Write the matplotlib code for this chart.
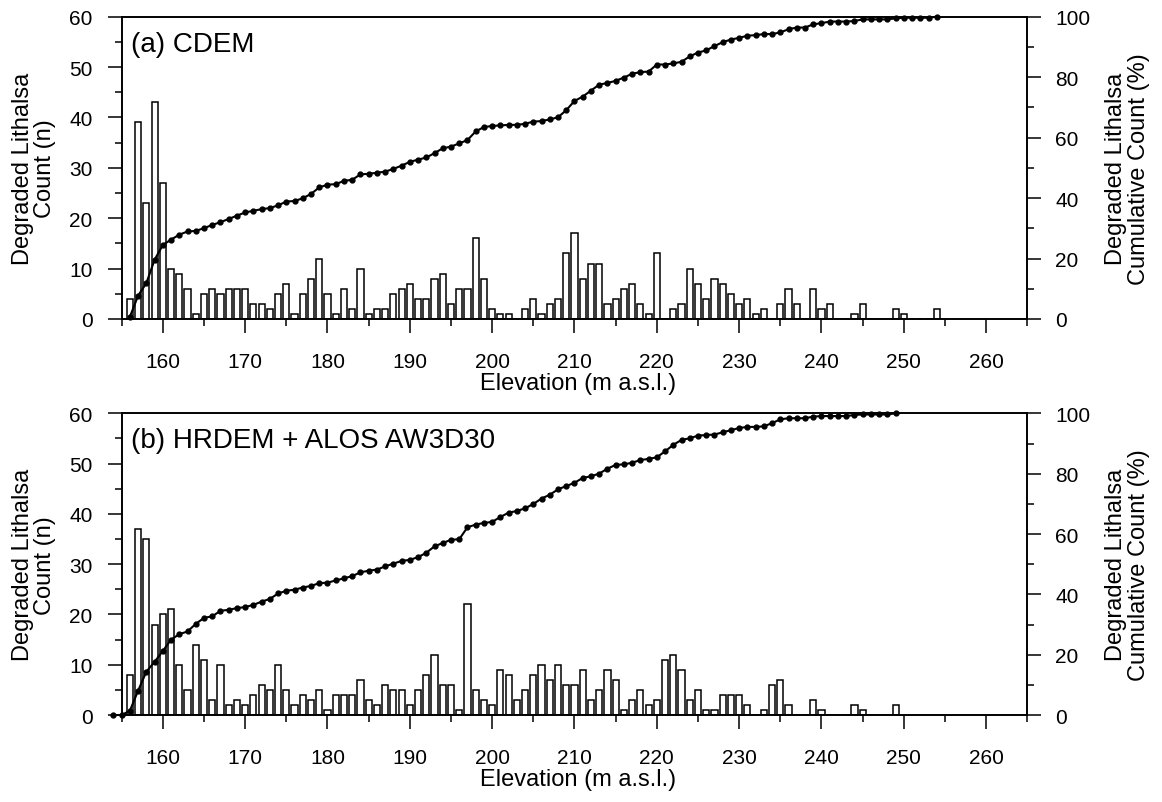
import numpy as np
import matplotlib
matplotlib.use('Agg')
from matplotlib import pyplot as plt
from matplotlib.ticker import MultipleLocator

plt.rcParams['font.family'] = ['Liberation Sans', 'DejaVu Sans']

# counts per 1 m elevation bin
elev_a = np.arange(156, 255)
counts_a = [4, 39, 23, 43, 27, 10, 9, 6, 1, 5,
            6, 5, 6, 6, 6, 3, 3, 2, 5, 7,
            1, 5, 8, 12, 5, 1, 6, 2, 10, 1,
            2, 2, 5, 6, 7, 4, 4, 8, 9, 3,
            6, 6, 16, 8, 2, 1, 1, 0, 2, 4,
            1, 3, 4, 13, 17, 8, 11, 11, 3, 4,
            6, 7, 3, 1, 13, 0, 2, 3, 10, 7,
            4, 8, 7, 5, 3, 4, 1, 2, 0, 3,
            6, 3, 0, 6, 2, 3, 0, 0, 1, 3,
            0, 0, 0, 2, 1, 0, 0, 0, 2]

elev_b = np.arange(154, 250)
counts_b = [0, 0,
            8, 37, 35, 18, 20, 21, 10, 5, 14, 11,
            3, 10, 2, 3, 2, 4, 6, 5, 10, 5,
            2, 4, 3, 5, 1, 4, 4, 4, 7, 3,
            2, 6, 5, 5, 2, 5, 8, 12, 6, 6,
            1, 22, 5, 3, 2, 9, 8, 3, 5, 8,
            10, 7, 10, 6, 6, 9, 3, 5, 9, 7,
            1, 3, 5, 2, 3, 11, 12, 9, 3, 5,
            1, 1, 4, 4, 4, 2, 0, 1, 6, 7,
            2, 0, 0, 3, 1, 0, 0, 0, 2, 1,
            0, 0, 0, 2]

panels = [
    ('(a) CDEM', elev_a, counts_a, [0.1047, 0.6015, 0.7794, 0.3765]),
    ('(b) HRDEM + ALOS AW3D30', elev_b, counts_b, [0.1047, 0.1083, 0.7794, 0.3757]),
]

fig = plt.figure(figsize=(11.62, 8.03), dpi=100)

for title, elev, counts, rect in panels:
    counts = np.array(counts)
    cum = np.cumsum(counts) / counts.sum() * 100

    ax = fig.add_axes(rect)
    ax.bar(elev, counts, width=0.75, color='white', edgecolor='black', linewidth=1.1)
    ax.set_xlim(155, 265)
    ax.set_ylim(0, 60)
    ax.xaxis.set_major_locator(MultipleLocator(10))
    ax.xaxis.set_minor_locator(MultipleLocator(5))
    ax.yaxis.set_major_locator(MultipleLocator(10))
    ax.yaxis.set_minor_locator(MultipleLocator(5))
    ax.tick_params(which='major', direction='out', length=10, width=1.1, labelsize=15)
    ax.tick_params(which='minor', direction='out', length=5, width=1.1)
    ax.tick_params(axis='x', which='major', pad=14)
    ax.tick_params(axis='y', which='major', pad=11)
    for s in ax.spines.values():
        s.set_linewidth(1.2)
    ax.set_xlabel('Elevation (m a.s.l.)', fontsize=17)
    ax.xaxis.set_label_coords(0.504, -0.175)
    ax.set_ylabel('Degraded Lithalsa\nCount (n)', fontsize=17, linespacing=1.05)
    ax.yaxis.set_label_coords(-0.072, 0.5)
    ax.text(0.01, 0.91, title, transform=ax.transAxes, fontsize=20, va='center', ha='left')

    ax2 = ax.twinx()
    ax2.plot(elev, cum, color='black', lw=1.5, marker='o', ms=3.5, clip_on=False)
    ax2.set_ylim(0, 100)
    ax2.yaxis.set_major_locator(MultipleLocator(20))
    ax2.yaxis.set_minor_locator(MultipleLocator(10))
    ax2.tick_params(which='major', direction='out', length=10, width=1.1, labelsize=15, pad=10)
    ax2.tick_params(which='minor', direction='out', length=5, width=1.1)
    for s in ax2.spines.values():
        s.set_linewidth(1.2)
    ax2.set_ylabel('Degraded Lithalsa\nCumulative Count (%)', fontsize=17, linespacing=1.05)
    ax2.yaxis.set_label_coords(1.086, 0.5)

fig.savefig('out.png', dpi=100)
